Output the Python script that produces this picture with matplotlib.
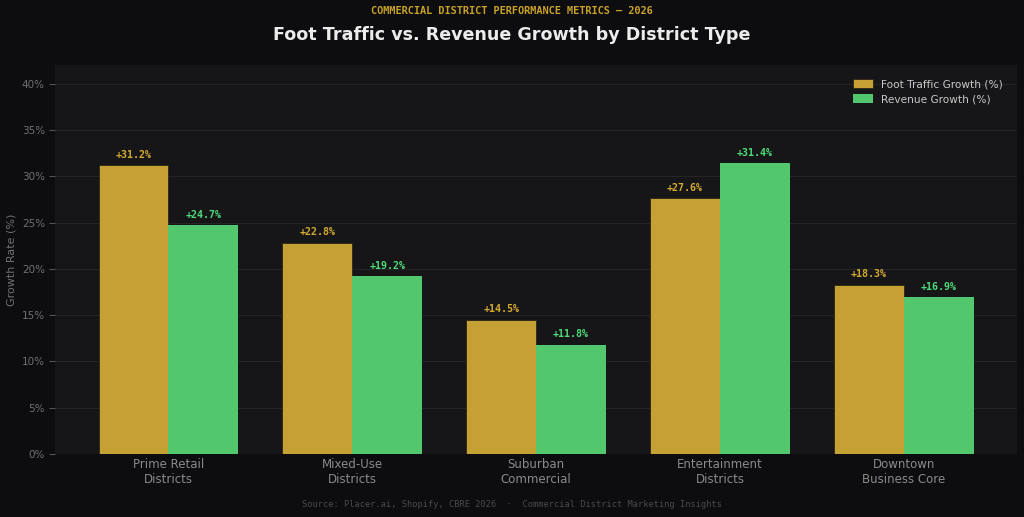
import matplotlib
matplotlib.use("Agg")
import matplotlib.pyplot as plt
import numpy as np
from matplotlib.ticker import FuncFormatter

categories = ["Prime Retail\nDistricts", "Mixed-Use\nDistricts", "Suburban\nCommercial",
              "Entertainment\nDistricts", "Downtown\nBusiness Core"]
foot_traffic = [31.2, 22.8, 14.5, 27.6, 18.3]
revenue = [24.7, 19.2, 11.8, 31.4, 16.9]
series_names = ["Foot Traffic Growth (%)", "Revenue Growth (%)"]

gold = "#C4A035"
green = "#52C76E"
gold_txt = "#D4AA30"
green_txt = "#4EDB78"

fig = plt.figure(figsize=(10.24, 5.17), dpi=100, facecolor="#0D0D0F")
ax = fig.add_axes([0.054, 0.122, 0.939, 0.752])
ax.set_facecolor("#161618")

x = np.arange(len(categories))
w = 0.38
b1 = ax.bar(x - w/2, foot_traffic, w, color=gold, edgecolor="#2a2518", linewidth=0.6,
            label=series_names[0], zorder=3)
b2 = ax.bar(x + w/2, revenue, w, color=green, edgecolor=green, linewidth=0.0,
            label=series_names[1], zorder=3)

for rect, v in zip(b1, foot_traffic):
    ax.text(rect.get_x() + rect.get_width()/2, v + 0.6, f"+{v:.1f}%", ha="center", va="bottom",
            color=gold_txt, fontsize=7.2, fontweight="bold", family="DejaVu Sans Mono", zorder=4)
for rect, v in zip(b2, revenue):
    ax.text(rect.get_x() + rect.get_width()/2, v + 0.6, f"+{v:.1f}%", ha="center", va="bottom",
            color=green_txt, fontsize=7.2, fontweight="bold", family="DejaVu Sans Mono", zorder=4)

ax.set_xlim(-0.615, 4.615)
ax.set_ylim(0, 42)
ax.set_yticks(np.arange(0, 41, 5))
ax.yaxis.set_major_formatter(FuncFormatter(lambda v, p: f"{v:.0f}%"))
ax.set_xticks(x)
ax.set_xticklabels(categories, color="#8a8a8a", fontsize=8.5)
ax.tick_params(axis="y", colors="#555558", labelcolor="#707074", labelsize=7.5, length=4)
ax.tick_params(axis="x", length=0, pad=3)
ax.grid(axis="y", color="#252528", linewidth=0.8, zorder=0)
for s in ax.spines.values():
    s.set_visible(False)
ax.set_ylabel("Growth Rate (%)", color="#707074", fontsize=8)

leg = ax.legend(loc="upper right", frameon=False, fontsize=7.6, labelcolor="#c8c8c8",
                handlelength=1.9, handleheight=1.0, borderaxespad=0.9, labelspacing=0.45)

fig.text(0.5, 0.988, "COMMERCIAL DISTRICT PERFORMANCE METRICS — 2026", ha="center", va="top",
         color="#C9A227", fontsize=7.4, fontweight="bold", family="DejaVu Sans Mono")
fig.text(0.5, 0.932, "Foot Traffic vs. Revenue Growth by District Type", ha="center", va="center",
         color="#ECECEC", fontsize=12.6, fontweight="bold")
fig.text(0.5, 0.024, "Source: Placer.ai, Shopify, CBRE 2026  ·  Commercial District Marketing Insights",
         ha="center", va="center", color="#4a4a4e", fontsize=6.2, family="DejaVu Sans Mono")

fig.savefig("out.png", dpi=100, facecolor=fig.get_facecolor())
